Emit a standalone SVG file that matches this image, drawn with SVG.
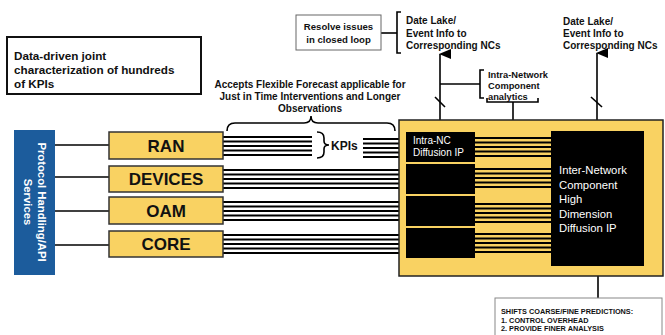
<svg xmlns="http://www.w3.org/2000/svg" width="665" height="335" viewBox="0 0 665 335">
<defs>
<style>
text{font-family:"Liberation Sans",Arial,sans-serif;fill:#111}
.b{font-weight:700}
.w{fill:#fff}
.ln{stroke:#000;stroke-width:1.6;fill:none}
.kl{stroke:#000;stroke-width:2.2}
.yb{fill:#f9d262;stroke:#333;stroke-width:1.5}
.blk{fill:#000}
</style>
<marker id="ah" viewBox="0 0 10 12" refX="5" refY="1" markerWidth="10" markerHeight="12" markerUnits="userSpaceOnUse" orient="auto-start-reverse">
<path d="M0,12 L5,0 L10,12 Z" fill="#000"/>
</marker>
</defs>
<rect width="665" height="335" fill="#fff"/>

<g id="title">
<rect x="7" y="37" width="194" height="57" fill="#fff" stroke="#111" stroke-width="2"/>
<text class="b" x="14" y="60" font-size="11.7">Data-driven joint</text>
<text class="b" x="14" y="74" font-size="11.7">characterization of hundreds</text>
<text class="b" x="14" y="88" font-size="11.7">of KPIs</text>
</g>

<g id="connectors">
<line class="ln" x1="55" y1="145" x2="109" y2="145"/>
<line class="ln" x1="55" y1="177" x2="109" y2="177"/>
<line class="ln" x1="55" y1="211" x2="109" y2="211"/>
<line class="ln" x1="55" y1="245" x2="109" y2="245"/>
<g class="kl">
<line x1="223" y1="137" x2="312" y2="137"/><line x1="223" y1="141.5" x2="312" y2="141.5"/><line x1="223" y1="146" x2="312" y2="146"/><line x1="223" y1="150.5" x2="312" y2="150.5"/><line x1="223" y1="155" x2="312" y2="155"/>
<line x1="363" y1="139" x2="399" y2="139"/><line x1="363" y1="143.5" x2="399" y2="143.5"/><line x1="363" y1="148" x2="399" y2="148"/><line x1="363" y1="152.5" x2="399" y2="152.5"/><line x1="363" y1="157" x2="399" y2="157"/>
<line x1="223" y1="170" x2="399" y2="170"/><line x1="223" y1="174.5" x2="399" y2="174.5"/><line x1="223" y1="179" x2="399" y2="179"/><line x1="223" y1="183.5" x2="399" y2="183.5"/><line x1="223" y1="188" x2="399" y2="188"/>
<line x1="223" y1="202" x2="399" y2="202"/><line x1="223" y1="206.5" x2="399" y2="206.5"/><line x1="223" y1="211" x2="399" y2="211"/><line x1="223" y1="215.5" x2="399" y2="215.5"/><line x1="223" y1="220" x2="399" y2="220"/>
<line x1="223" y1="235" x2="399" y2="235"/><line x1="223" y1="239.5" x2="399" y2="239.5"/><line x1="223" y1="244" x2="399" y2="244"/><line x1="223" y1="248.5" x2="399" y2="248.5"/><line x1="223" y1="253" x2="399" y2="253"/>
</g>
<path class="ln" d="M227,131 Q227,123 235,123 L304,123 Q311,123 311,116 Q311,123 318,123 L387,123 Q395,123 395,131"/>
<path class="ln" d="M317,132 Q324,132 324,138 L324,141 Q324,145 329,145 Q324,145 324,149 L324,152 Q324,158 317,158"/>
<line class="ln" x1="440" y1="132" x2="440" y2="54" marker-end="url(#ah)"/>
<line class="ln" x1="435" y1="97" x2="445" y2="107"/>
<line class="ln" x1="597" y1="131" x2="597" y2="53" marker-end="url(#ah)"/>
<line class="ln" x1="591" y1="97" x2="602" y2="107"/>
<line class="ln" x1="381" y1="33" x2="397" y2="33"/>
<path class="ln" d="M401,12 L397,12 L397,53 L401,53"/>
<line class="ln" x1="440" y1="84" x2="480" y2="84"/>
<path class="ln" d="M484,70 L480,70 L480,98 L484,98"/>
<path class="ln" d="M487,98 L487,102 L538,102 L538,98"/>
<line class="ln" x1="513" y1="102" x2="513" y2="137"/>
<line class="ln" x1="598" y1="266" x2="598" y2="298"/>
</g>

<g id="protocol">
<rect x="14" y="130" width="41" height="145" fill="#1c5c9c"/>
<text class="b w" font-size="11.3" text-anchor="middle" transform="translate(38,202) rotate(90)">Protocol Handling/API</text>
<text class="b w" font-size="11.3" text-anchor="middle" transform="translate(24,202) rotate(90)">Services</text>
</g>

<g id="ran"><rect class="yb" x="109" y="132" width="114" height="27"/><text class="b" x="166" y="152" font-size="17" text-anchor="middle">RAN</text></g>
<g id="devices"><rect class="yb" x="109" y="166" width="114" height="26"/><text class="b" x="166" y="185" font-size="17" text-anchor="middle">DEVICES</text></g>
<g id="oam"><rect class="yb" x="109" y="197" width="114" height="27"/><text class="b" x="166" y="217" font-size="17" text-anchor="middle">OAM</text></g>
<g id="core"><rect class="yb" x="109" y="231" width="114" height="26"/><text class="b" x="166" y="250" font-size="17" text-anchor="middle">CORE</text></g>

<g id="accepts-label">
<text class="b" x="310" y="88" font-size="10" text-anchor="middle">Accepts Flexible Forecast applicable for</text>
<text class="b" x="310" y="100" font-size="10" text-anchor="middle">Just in Time Interventions and Longer</text>
<text class="b" x="310" y="112" font-size="10" text-anchor="middle">Observations</text>
</g>
<g id="kpis"><text class="b" x="331" y="150" font-size="12">KPIs</text></g>

<g id="resolve">
<rect x="296" y="15" width="85" height="35" fill="#fff" stroke="#666" stroke-width="1"/>
<text class="b" x="338.5" y="30" font-size="9.6" text-anchor="middle">Resolve issues</text>
<text class="b" x="338.5" y="43" font-size="9.6" text-anchor="middle">in closed loop</text>
</g>

<g id="datelake1">
<text class="b" x="406" y="24" font-size="10">Date Lake/</text>
<text class="b" x="406" y="36.5" font-size="10">Event Info to</text>
<text class="b" x="406" y="49" font-size="10">Corresponding NCs</text>
</g>
<g id="datelake2">
<text class="b" x="563" y="25" font-size="10">Date Lake/</text>
<text class="b" x="563" y="37" font-size="10">Event Info to</text>
<text class="b" x="563" y="49" font-size="10">Corresponding NCs</text>
</g>
<g id="intra-network">
<text class="b" x="488" y="78" font-size="9.3">Intra-Network</text>
<text class="b" x="488" y="89" font-size="9.3">Component</text>
<text class="b" x="488" y="100" font-size="9.3">analytics</text>
</g>

<g id="platform">
<rect x="399" y="120" width="264" height="156" fill="#f9d262" stroke="#222" stroke-width="1.5"/>
<g class="kl">
<line x1="475" y1="138" x2="551" y2="138"/><line x1="475" y1="142.5" x2="551" y2="142.5"/><line x1="475" y1="147" x2="551" y2="147"/><line x1="475" y1="151.5" x2="551" y2="151.5"/><line x1="475" y1="156" x2="551" y2="156"/>
<line x1="475" y1="169" x2="551" y2="169"/><line x1="475" y1="173.5" x2="551" y2="173.5"/><line x1="475" y1="178" x2="551" y2="178"/><line x1="475" y1="182.5" x2="551" y2="182.5"/><line x1="475" y1="187" x2="551" y2="187"/>
<line x1="475" y1="204" x2="551" y2="204"/><line x1="475" y1="208.5" x2="551" y2="208.5"/><line x1="475" y1="213" x2="551" y2="213"/><line x1="475" y1="217.5" x2="551" y2="217.5"/><line x1="475" y1="222" x2="551" y2="222"/>
<line x1="475" y1="234" x2="551" y2="234"/><line x1="475" y1="238.5" x2="551" y2="238.5"/><line x1="475" y1="243" x2="551" y2="243"/><line x1="475" y1="247.5" x2="551" y2="247.5"/><line x1="475" y1="252" x2="551" y2="252"/>
</g>
</g>
<g id="intra-nc">
<rect class="blk" x="406" y="132" width="69" height="30"/>
<text class="w" x="413" y="144" font-size="10">Intra-NC</text>
<text class="w" x="413" y="156" font-size="10">Diffusion IP</text>
</g>
<g id="nc2"><rect class="blk" x="406" y="164" width="69" height="30"/></g>
<g id="nc3"><rect class="blk" x="406" y="196" width="69" height="30"/></g>
<g id="nc4"><rect class="blk" x="406" y="228" width="69" height="30"/></g>
<g id="inter-network">
<rect class="blk" x="551" y="131" width="93" height="135"/>
<text class="w" x="559" y="174" font-size="11.3">Inter-Network</text>
<text class="w" x="559" y="188.5" font-size="11.3">Component</text>
<text class="w" x="559" y="203" font-size="11.3">High</text>
<text class="w" x="559" y="217.5" font-size="11.3">Dimension</text>
<text class="w" x="559" y="232" font-size="11.3">Diffusion IP</text>
</g>

<g id="shifts">
<rect x="495" y="298" width="167" height="45" fill="#fff" stroke="#888" stroke-width="1"/>
<text class="b" x="501" y="314" font-size="7.3">SHIFTS COARSE/FINE PREDICTIONS:</text>
<text class="b" x="501" y="322.5" font-size="7.3">1. CONTROL OVERHEAD</text>
<text class="b" x="501" y="331" font-size="7.3">2. PROVIDE FINER ANALYSIS</text>
</g>
</svg>
